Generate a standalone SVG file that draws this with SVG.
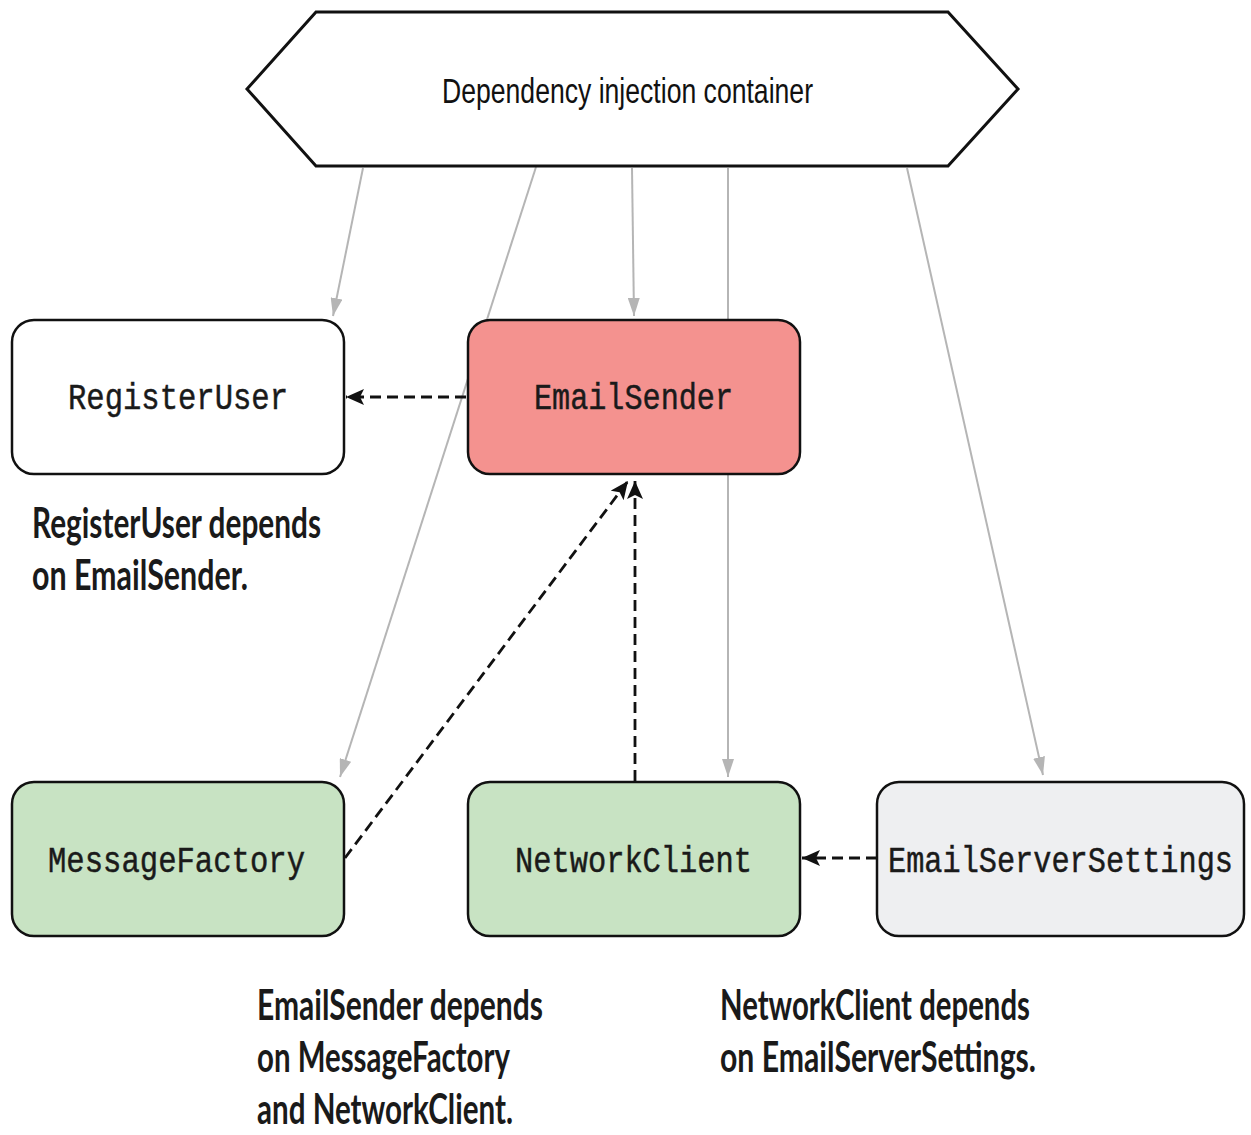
<svg xmlns="http://www.w3.org/2000/svg" width="1251" height="1135" viewBox="0 0 1251 1135">
<style>
.box{stroke:#111;stroke-width:2.5}
.mono{font-family:"Liberation Mono","Courier New",monospace;font-size:30.4px;fill:#1a1a1a;stroke:#1a1a1a;stroke-width:0.4}
.lbl{font-family:Lato,"Liberation Sans",sans-serif;font-weight:bold;font-size:42px;fill:#1a1a1a}
.gray{stroke:#b5b5b5;stroke-width:2;fill:none}
.dash{stroke:#111;stroke-width:2.8;fill:none;stroke-dasharray:11 6}
</style>
<defs>
<marker id="ag" markerUnits="userSpaceOnUse" markerWidth="20" markerHeight="12" refX="18" refY="6" orient="auto">
<path d="M0,0 L18,6 L0,12 z" fill="#b5b5b5"/>
</marker>
<marker id="ab" markerUnits="userSpaceOnUse" markerWidth="20" markerHeight="16" refX="18" refY="8" orient="auto">
<path d="M0,0 L18,8 L0,16 L4,8 z" fill="#111"/>
</marker>
</defs>
<rect width="1251" height="1135" fill="#fff"/>
<g id="connectors">
<line class="gray" x1="363" y1="168" x2="333" y2="316" marker-end="url(#ag)"/>
<line class="gray" x1="536" y1="167" x2="340" y2="777" marker-end="url(#ag)"/>
<line class="gray" x1="632" y1="168" x2="634" y2="316" marker-end="url(#ag)"/>
<line class="gray" x1="728" y1="168" x2="728" y2="777" marker-end="url(#ag)"/>
<line class="gray" x1="907" y1="168" x2="1043" y2="775" marker-end="url(#ag)"/>
</g>
<g id="container">
<polygon points="316,12 948,12 1018,89 948,166 316,166 247,89" fill="#fff" stroke="#111" stroke-width="3"/>
<text x="442" y="103" font-family="'Liberation Sans',Arial,sans-serif" font-size="35" fill="#111" textLength="371" lengthAdjust="spacingAndGlyphs">Dependency injection container</text>
</g>
<g id="RegisterUser">
<rect class="box" x="12" y="320" width="332" height="154" rx="22" fill="#fff"/>
<text class="mono" transform="translate(68,409) scale(1,1.22)" textLength="220" lengthAdjust="spacingAndGlyphs">RegisterUser</text>
</g>
<g id="EmailSender">
<rect class="box" x="468" y="320" width="332" height="154" rx="22" fill="#f4928f"/>
<text class="mono" transform="translate(534,409) scale(1,1.22)" textLength="199" lengthAdjust="spacingAndGlyphs">EmailSender</text>
</g>
<g id="MessageFactory">
<rect class="box" x="12" y="782" width="332" height="154" rx="22" fill="#c8e3c3"/>
<text class="mono" transform="translate(48,872) scale(1,1.22)" textLength="257" lengthAdjust="spacingAndGlyphs">MessageFactory</text>
</g>
<g id="NetworkClient">
<rect class="box" x="468" y="782" width="332" height="154" rx="22" fill="#c8e3c3"/>
<text class="mono" transform="translate(515,872) scale(1,1.22)" textLength="237" lengthAdjust="spacingAndGlyphs">NetworkClient</text>
</g>
<g id="EmailServerSettings">
<rect class="box" x="877" y="782" width="367" height="154" rx="22" fill="#eeeff1"/>
<text class="mono" transform="translate(888,872) scale(1,1.22)" textLength="345" lengthAdjust="spacingAndGlyphs">EmailServerSettings</text>
</g>
<g id="dependencies">
<line class="dash" x1="466" y1="397" x2="346" y2="397" marker-end="url(#ab)"/>
<line class="dash" x1="345" y1="858" x2="628" y2="481" marker-end="url(#ab)"/>
<line class="dash" x1="635" y1="781" x2="635" y2="481" marker-end="url(#ab)"/>
<line class="dash" x1="877" y1="858" x2="802" y2="858" marker-end="url(#ab)"/>
</g>
<g id="labels">
<text class="lbl" x="32" y="538" textLength="289" lengthAdjust="spacingAndGlyphs">RegisterUser depends</text>
<text class="lbl" x="32" y="590" textLength="216" lengthAdjust="spacingAndGlyphs">on EmailSender.</text>
<text class="lbl" x="257" y="1020" textLength="286" lengthAdjust="spacingAndGlyphs">EmailSender depends</text>
<text class="lbl" x="257" y="1072" textLength="253" lengthAdjust="spacingAndGlyphs">on MessageFactory</text>
<text class="lbl" x="257" y="1124" textLength="256" lengthAdjust="spacingAndGlyphs">and NetworkClient.</text>
<text class="lbl" x="720" y="1020" textLength="310" lengthAdjust="spacingAndGlyphs">NetworkClient depends</text>
<text class="lbl" x="720" y="1072" textLength="316" lengthAdjust="spacingAndGlyphs">on EmailServerSettings.</text>
</g>
</svg>
